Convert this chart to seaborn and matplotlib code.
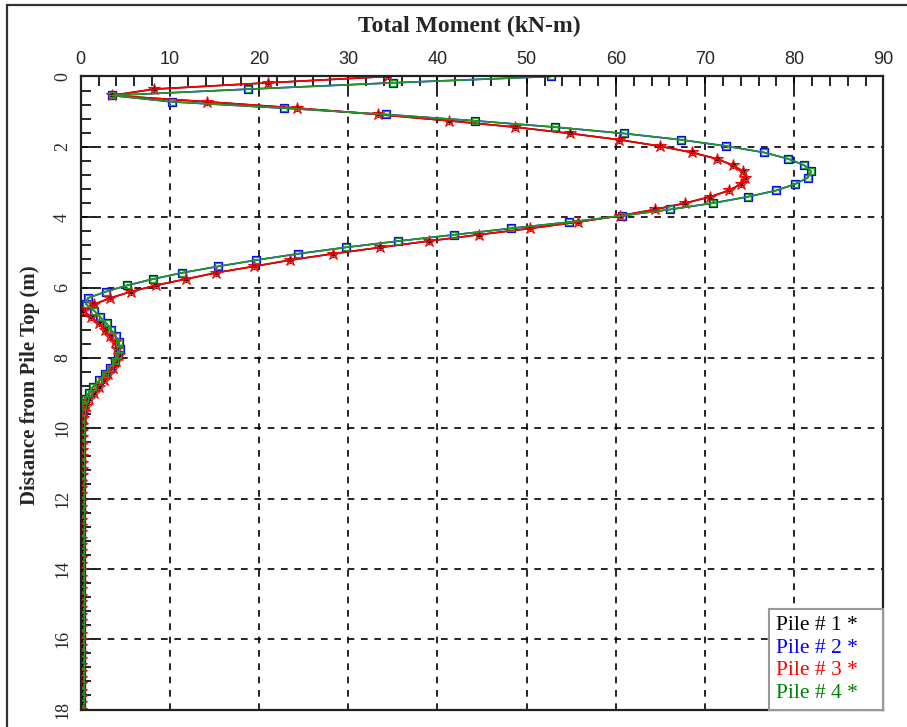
import numpy as np
import pandas as pd
import matplotlib
matplotlib.use("Agg")
import matplotlib.pyplot as plt
from matplotlib.ticker import MultipleLocator
from matplotlib.patches import Rectangle
from matplotlib.lines import Line2D
import seaborn as sns

# ---------------- data ----------------
depth = [0.00, 0.18, 0.36, 0.54, 0.72, 0.90, 1.08, 1.26, 1.44, 1.62,
         1.80, 1.98, 2.16, 2.34, 2.52, 2.70, 2.88, 3.06, 3.24, 3.42,
         3.60, 3.78, 3.96, 4.14, 4.32, 4.50, 4.68, 4.86, 5.04, 5.22,
         5.40, 5.58, 5.76, 5.94, 6.12, 6.30, 6.48, 6.66, 6.84, 7.02,
         7.20, 7.38, 7.56, 7.74, 7.92, 8.10, 8.28, 8.46, 8.64, 8.82,
         9.00, 9.18, 9.36, 9.54, 9.72, 9.90, 10.08, 10.26, 10.44, 10.62,
         10.80, 10.98, 11.16, 11.34, 11.52, 11.70, 11.88, 12.06, 12.24, 12.42,
         12.60, 12.78, 12.96, 13.14, 13.32, 13.50, 13.68, 13.86, 14.04, 14.22,
         14.40, 14.58, 14.76, 14.94, 15.12, 15.30, 15.48, 15.66, 15.84, 16.02,
         16.20, 16.38, 16.56, 16.74, 16.92, 17.10, 17.28, 17.46, 17.64, 17.82,
         18.00]

# Piles 1 and 3 (identical)
moment_13 = [34.4, 21.0, 8.2, 3.5, 14.2, 24.3, 33.3, 41.3, 48.7, 54.9,
             60.4, 64.9, 68.5, 71.3, 73.1, 74.3, 74.5, 74.0, 72.7, 70.6,
             67.8, 64.4, 60.5, 55.7, 50.4, 44.6, 39.0, 33.6, 28.3, 23.5,
             19.4, 15.2, 11.8, 8.4, 5.6, 3.3, 1.5, 0.3, 1.2, 2.0,
             2.7, 3.3, 3.8, 4.1, 4.3, 4.0, 3.6, 3.1, 2.6, 2.0,
             1.45, 0.95, 0.6, 0.35, 0.2, 0.12, 0.1, 0.1, 0.1, 0.1,
             0.1, 0.1, 0.1, 0.1, 0.08, 0.08, 0.08, 0.08, 0.08, 0.08,
             0.07, 0.07, 0.07, 0.07, 0.07, 0.06, 0.06, 0.06, 0.06, 0.06,
             0.05, 0.05, 0.05, 0.05, 0.05, 0.04, 0.04, 0.04, 0.04, 0.04,
             0.03, 0.03, 0.03, 0.03, 0.02, 0.02, 0.02, 0.01, 0.01, 0.0,
             0.0]

# Piles 2 and 4 (identical)
moment_24 = [52.7, 35.0, 18.8, 3.5, 10.2, 22.8, 34.2, 44.2, 53.2, 60.9,
             67.3, 72.4, 76.6, 79.3, 81.1, 81.9, 81.5, 80.1, 78.0, 74.8,
             70.9, 66.1, 60.7, 54.8, 48.2, 41.9, 35.6, 29.7, 24.4, 19.7,
             15.4, 11.4, 8.1, 5.2, 2.8, 0.8, 0.6, 1.5, 2.2, 2.9,
             3.4, 3.9, 4.3, 4.4, 4.2, 3.8, 3.3, 2.7, 2.1, 1.4,
             0.9, 0.5, 0.25, 0.1, 0.05, 0.05, 0.05, 0.05, 0.05, 0.05,
             0.05, 0.05, 0.05, 0.05, 0.05, 0.04, 0.04, 0.04, 0.04, 0.04,
             0.04, 0.04, 0.03, 0.03, 0.03, 0.03, 0.03, 0.03, 0.03, 0.02,
             0.02, 0.02, 0.02, 0.02, 0.02, 0.02, 0.01, 0.01, 0.01, 0.01,
             0.01, 0.01, 0.01, 0.01, 0.01, 0.0, 0.0, 0.0, 0.0, 0.0,
             0.0]

pile_labels = ["Pile # 1 *", "Pile # 2 *", "Pile # 3 *", "Pile # 4 *"]
pile_colors = ["black", "blue", "red", "green"]

# ---------------- figure ----------------
sns.set_style("white")
plt.rcParams["font.family"] = ["Liberation Serif", "DejaVu Serif"]

fig = plt.figure(figsize=(9.07, 7.27), dpi=100)
ax = fig.add_axes([0.089, 0.024, 0.885, 0.8708])

df13 = pd.DataFrame({"depth": depth, "moment": moment_13})
df24 = pd.DataFrame({"depth": depth, "moment": moment_24})

# Pile 1 (black, asterisk) under Pile 3
sns.lineplot(data=df13, x="moment", y="depth", orient="y", sort=False,
             estimator=None, color="black", lw=1.2, marker=(6, 2, 0),
             markersize=4.5, markeredgecolor="black", markeredgewidth=0.9,
             ax=ax)
# Pile 2 (blue squares)
sns.lineplot(data=df24, x="moment", y="depth", orient="y", sort=False,
             estimator=None, color="blue", lw=1.2, marker="s",
             markersize=6, markerfacecolor="none", markeredgecolor="blue",
             markeredgewidth=0.9, ax=ax)
# Pile 3 (red stars)
sns.lineplot(data=df13, x="moment", y="depth", orient="y", sort=False,
             estimator=None, color="red", lw=1.2, marker="*",
             markersize=9, markerfacecolor="none", markeredgecolor="red",
             markeredgewidth=0.8, ax=ax)
# Pile 4 (green line with squares)
sns.lineplot(data=df24, x="moment", y="depth", orient="y", sort=False,
             estimator=None, color="#229922", lw=1.2, marker="s",
             markersize=4.2, markerfacecolor="none", markeredgecolor="#229922",
             markeredgewidth=0.9, ax=ax)

ax.set_xlim(0, 90)
ax.set_ylim(18, 0)

ax.xaxis.set_major_locator(MultipleLocator(10))
ax.xaxis.set_minor_locator(MultipleLocator(2))
ax.yaxis.set_major_locator(MultipleLocator(2))
ax.yaxis.set_minor_locator(MultipleLocator(0.4))

ax.xaxis.tick_top()
ax.xaxis.set_label_position("top")
ax.tick_params(axis="x", which="both", direction="in", top=True, bottom=False,
               labeltop=True, labelbottom=False, color="black")
ax.tick_params(axis="y", which="both", direction="in", left=True, right=False,
               color="black")
ax.tick_params(which="major", length=10, width=1.2)
ax.tick_params(which="minor", length=7, width=1.2)
ax.tick_params(axis="x", which="major", pad=6)
ax.tick_params(axis="y", which="major", pad=7)

for lab in ax.get_xticklabels():
    lab.set_fontfamily(["Liberation Sans", "DejaVu Sans"])
    lab.set_fontsize(13)
for lab in ax.get_yticklabels():
    lab.set_fontsize(13)
    lab.set_rotation(90)
    lab.set_va("center")

ax.grid(True, which="major", color="black", linestyle=(0, (4, 4)), linewidth=1.2)
ax.set_axisbelow(True)

for sp in ax.spines.values():
    sp.set_visible(True)
    sp.set_color("#222222")
    sp.set_linewidth(1.6)

ax.set_xlabel("Total Moment (kN-m)", fontsize=17, fontweight="bold", labelpad=14)
ax.xaxis.label.set_x(0.484)
ax.set_ylabel("Distance from Pile Top (m)", fontsize=15, fontweight="bold", labelpad=10)
ax.yaxis.label.set_y(0.513)

# text-only legend with coloured labels
handles = [Line2D([], [], linestyle="none", marker=None) for _ in pile_labels]
leg = ax.legend(handles, pile_labels, loc="lower right", borderaxespad=0.0,
                handlelength=0.9, handletextpad=0, markerfirst=False,
                fontsize=15.5, frameon=True, fancybox=False,
                edgecolor="#999999", framealpha=1,
                labelspacing=0.12, borderpad=0.3)
leg.get_frame().set_linewidth(1.5)
for txt, c in zip(leg.get_texts(), pile_colors):
    txt.set_color(c)

# outer frame of the window (cut at right and bottom)
fig.patches.append(Rectangle((7 / 907, -0.1), 1.2, 1.1 - 5 / 727,
                             transform=fig.transFigure, fill=False,
                             edgecolor="#333333", linewidth=1.6))

fig.savefig("out.png", dpi=100)
